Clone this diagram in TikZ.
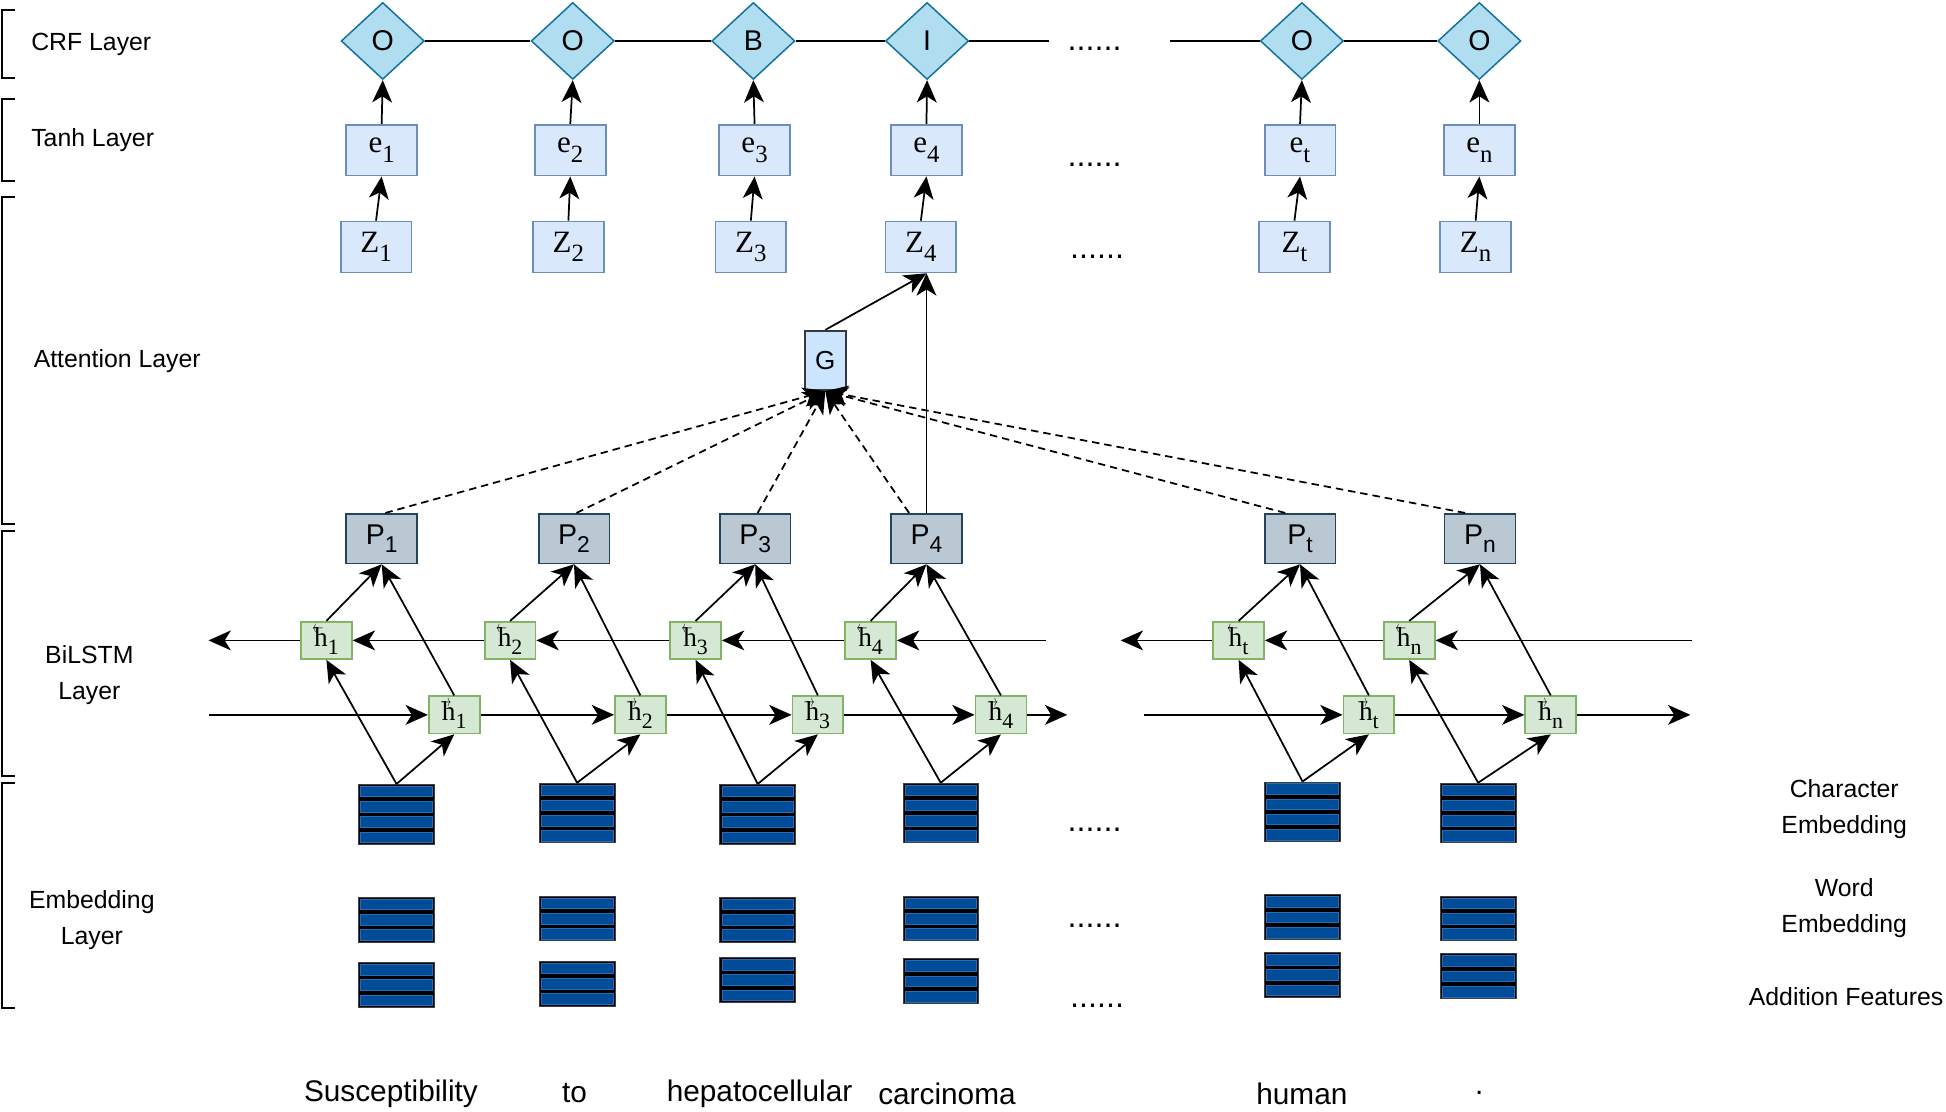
\documentclass[tikz,border=0pt]{standalone}
\usepackage{fontspec}
\usepackage{graphicx}
\setmainfont{Liberation Sans}
\newfontfamily\tnr{Liberation Serif}
\usetikzlibrary{shapes.geometric,arrows.meta,calc}
\definecolor{crffill}{HTML}{B1DDF0}
\definecolor{crfdraw}{HTML}{10739E}
\definecolor{efill}{HTML}{DAE8FC}
\definecolor{edraw}{HTML}{6C8EBF}
\definecolor{gfill}{HTML}{CCE5FF}
\definecolor{gdraw}{HTML}{36393D}
\definecolor{pfill}{HTML}{BAC8D3}
\definecolor{pdraw}{HTML}{23445D}
\definecolor{hfill}{HTML}{D5E8D4}
\definecolor{hdraw}{HTML}{82B366}
\definecolor{embblue}{HTML}{004C99}
\definecolor{embedge}{HTML}{2A6BB8}
\newcommand\fsz[2]{\fontsize{#1pt}{#2pt}\selectfont}
\newcommand\sbs[1]{\raisebox{-0.3em}{\scalebox{0.8}{#1}}}
\newcommand\hvec[1]{\makebox[0pt][l]{\raisebox{0.5em}{\kern-0.06em\resizebox{0.4em}{0.22em}{$#1$}}}h}
\begin{document}
\begin{tikzpicture}[x=1pt,y=-1pt,
  lbl/.style={font=\fsz{20}{29}, align=center, inner sep=0},
  word/.style={font=\fsz{24}{28}, inner sep=0},
  dotsn/.style={font=\fsz{26}{28}, anchor=base, inner sep=0},
  dia/.style={diamond, fill=crffill, draw=crfdraw, line width=1.2pt, minimum width=67, minimum height=62, inner sep=0, font=\fsz{23}{26}},
  ebox/.style={rectangle, fill=efill, draw=edraw, line width=1.4pt, minimum width=57, minimum height=41, inner sep=0, font=\tnr\fsz{25}{28}},
  gbox/.style={rectangle, fill=gfill, draw=gdraw, line width=1.4pt, minimum width=33, minimum height=48, inner sep=0, font=\fsz{21}{24}},
  pbox/.style={rectangle, fill=pfill, draw=pdraw, line width=1.4pt, minimum width=57, minimum height=40, inner sep=0, font=\fsz{23}{26}},
  hbox/.style={rectangle, fill=hfill, draw=hdraw, line width=1.4pt, minimum width=41, minimum height=30, inner sep=0, font=\tnr\fsz{22}{24}},
  arr/.style={-{Stealth[length=18pt,width=16pt,inset=5pt]}, line width=1.4pt},
  ln/.style={line width=1.4pt},
  dsh/.style={arr, dash pattern=on 6pt off 4pt},
  brk/.style={line width=1.6pt},
  embc/.style={rectangle, fill=black, draw=black!75, line width=0.6pt, minimum width=61, minimum height=48, inner sep=0,
    path picture={\foreach \k in {0,...,3}{
      \filldraw[fill=embblue, draw=embedge, line width=0.3pt] ($(path picture bounding box.north west)+(1.6,{1.4+\k*12.25})$) rectangle ++(57.8,8.5);}}},
  embw/.style={rectangle, fill=black, draw=black!75, line width=0.6pt, minimum width=61, minimum height=36, inner sep=0,
    path picture={\foreach \k in {0,...,2}{
      \filldraw[fill=embblue, draw=embedge, line width=0.3pt] ($(path picture bounding box.north west)+(1.6,{1.4+\k*12.34})$) rectangle ++(57.8,8.57);}}}
]
\useasboundingbox (0,0) rectangle (1568,896);

% brackets and layer labels
\draw[brk] (12,8) -- (2,8) -- (2,63) -- (12,63);
\draw[brk] (12,80) -- (2,80) -- (2,146) -- (12,146);
\draw[brk] (12,159) -- (2,159) -- (2,422) -- (12,422);
\draw[brk] (12,428) -- (2,428) -- (2,625) -- (12,625);
\draw[brk] (12,631) -- (2,631) -- (2,812) -- (12,812);
\node[lbl, anchor=west] (lcrf) at (25,36) {CRF Layer};
\node[lbl, anchor=west] (ltanh) at (25,113) {Tanh Layer};
\node[lbl, anchor=west] (latt) at (27,291) {Attention Layer};
\node[lbl] (lbil) at (72,544) {BiLSTM\\Layer};
\node[lbl] (lemb) at (74,741.5) {Embedding\\Layer};
\node[lbl] (rchar) at (1486,652) {Character\\Embedding};
\node[lbl] (rword) at (1486,732) {Word\\Embedding};
\node[lbl] (rfeat) at (1487.5,803) {Addition Features};

% CRF layer
\node[dia] (d1) at (308.4,33) {O};
\node[dia] (d2) at (461.5,33) {O};
\node[dia] (d3) at (607,33) {B};
\node[dia] (d4) at (747,33) {I};
\node[dia] (d5) at (1049,33) {O};
\node[dia] (d6) at (1192,33) {O};
\coordinate (crfA) at (845,33);
\coordinate (crfB) at (943,33);
\draw[ln] (d1.east) -- (d2.west);
\draw[ln] (d2.east) -- (d3.west);
\draw[ln] (d3.east) -- (d4.west);
\draw[ln] (d4.east) -- (crfA);
\draw[ln] (crfB) -- (d5.west);
\draw[ln] (d5.east) -- (d6.west);

% Tanh layer
\node[ebox] (e1) at (307.5,121) {e\sbs{1}};
\node[ebox] (e2) at (459.5,121) {e\sbs{2}};
\node[ebox] (e3) at (608,121) {e\sbs{3}};
\node[ebox] (e4) at (746.5,121) {e\sbs{4}};
\node[ebox] (e5) at (1047.5,121) {e\sbs{t}};
\node[ebox] (e6) at (1192,121) {e\sbs{n}};

% Attention outputs
\node[ebox] (z1) at (303,199) {Z\sbs{1}};
\node[ebox] (z2) at (458,199) {Z\sbs{2}};
\node[ebox] (z3) at (605,199) {Z\sbs{3}};
\node[ebox] (z4) at (742,199) {Z\sbs{4}};
\node[ebox] (z5) at (1043,199) {Z\sbs{t}};
\node[ebox] (z6) at (1189,199) {Z\sbs{n}};

\foreach \i in {1,...,6}{
  \draw[arr] (z\i.north) -- (e\i.south);
  \draw[arr] (e\i.north) -- (d\i.south);
}

% dots
\node[dotsn] (dots1) at (882,41) {......};
\node[dotsn] (dots2) at (882,134) {......};
\node[dotsn] (dots3) at (884,208) {......};
\node[dotsn] (dots4) at (882,670) {......};
\node[dotsn] (dots5) at (882,747) {......};
\node[dotsn] (dots6) at (884,812) {......};

% G and P
\node[gbox] (g) at (665,290.5) {G};
\node[pbox] (p1) at (307.5,434) {P\sbs{1}};
\node[pbox] (p2) at (462.5,434) {P\sbs{2}};
\node[pbox] (p3) at (608.5,434) {P\sbs{3}};
\node[pbox] (p4) at (746.5,434) {P\sbs{4}};
\node[pbox] (p5) at (1047.5,434) {P\sbs{t}};
\node[pbox] (p6) at (1192.5,434) {P\sbs{n}};

\draw[arr] (p4.north) -- (p4.north |- z4.south);
\draw[arr] (g.north) -- (p4.north |- z4.south);
\draw[dsh] ($(p1.north)+(3,0)$) -- (g.south);
\draw[dsh] ($(p2.north)+(2,0)$) -- (g.south);
\draw[dsh] ($(p3.north)+(2,0)$) -- (g.south);
\draw[dsh] ($(p4.north)+(-14,0)$) -- (g.south);
\draw[dsh] ($(p5.north)+(-12,0)$) -- (g.south);
\draw[dsh] ($(p6.north)+(-12,0)$) -- (g.south);

% BiLSTM
\node[hbox] (hb1) at (263,516) {\hvec{\leftarrow}\sbs{1}};
\node[hbox] (hb2) at (411,516) {\hvec{\leftarrow}\sbs{2}};
\node[hbox] (hb3) at (560.5,516) {\hvec{\leftarrow}\sbs{3}};
\node[hbox] (hb4) at (701.5,516) {\hvec{\leftarrow}\sbs{4}};
\node[hbox] (hb5) at (998,516) {\hvec{\leftarrow}\sbs{t}};
\node[hbox] (hb6) at (1135.5,516) {\hvec{\leftarrow}\sbs{n}};
\node[hbox] (hf1) at (366,576) {\hvec{\rightarrow}\sbs{1}};
\node[hbox] (hf2) at (516,576) {\hvec{\rightarrow}\sbs{2}};
\node[hbox] (hf3) at (659,576) {\hvec{\rightarrow}\sbs{3}};
\node[hbox] (hf4) at (806.5,576) {\hvec{\rightarrow}\sbs{4}};
\node[hbox] (hf5) at (1103,576) {\hvec{\rightarrow}\sbs{t}};
\node[hbox] (hf6) at (1249.5,576) {\hvec{\rightarrow}\sbs{n}};

\coordinate (bL1) at (168,516);
\coordinate (bR1) at (843,516);
\coordinate (bL2) at (903,516);
\coordinate (bR2) at (1363,516);
\coordinate (fL1) at (168,576);
\coordinate (fR1) at (860,576);
\coordinate (fL2) at (922,576);
\coordinate (fR2) at (1362,576);

\draw[arr] (bR1) -- (hb4.east);
\draw[arr] (hb4.west) -- (hb3.east);
\draw[arr] (hb3.west) -- (hb2.east);
\draw[arr] (hb2.west) -- (hb1.east);
\draw[arr] (hb1.west) -- (bL1);
\draw[arr] (bR2) -- (hb6.east);
\draw[arr] (hb6.west) -- (hb5.east);
\draw[arr] (hb5.west) -- (bL2);

\draw[arr] (fL1) -- (hf1.west);
\draw[arr] (hf1.east) -- (hf2.west);
\draw[arr] (hf2.east) -- (hf3.west);
\draw[arr] (hf3.east) -- (hf4.west);
\draw[arr] (hf4.east) -- (fR1);
\draw[arr] (fL2) -- (hf5.west);
\draw[arr] (hf5.east) -- (hf6.west);
\draw[arr] (hf6.east) -- (fR2);

% Embeddings
\node[embc] (c1) at (319.5,656) {};
\node[embc] (c2) at (465,655) {};
\node[embc] (c3) at (610.5,656) {};
\node[embc] (c4) at (758,655) {};
\node[embc] (c5) at (1049.5,654) {};
\node[embc] (c6) at (1191,655) {};
\node[embw] (w1) at (319.5,741) {};
\node[embw] (w2) at (465,740) {};
\node[embw] (w3) at (610.5,741) {};
\node[embw] (w4) at (758,740) {};
\node[embw] (w5) at (1049.5,739) {};
\node[embw] (w6) at (1191,740) {};
\node[embw] (f1) at (319.5,793.5) {};
\node[embw] (f2) at (465,792.5) {};
\node[embw] (f3) at (610.5,789.5) {};
\node[embw] (f4) at (758,790.5) {};
\node[embw] (f5) at (1049.5,785.5) {};
\node[embw] (f6) at (1191,786.5) {};

\foreach \i in {1,...,6}{
  \draw[arr] (c\i.north) -- (hb\i.south);
  \draw[arr] (c\i.north) -- (hf\i.south);
  \draw[arr] (hb\i.north) -- (p\i.south);
  \draw[arr] (hf\i.north) -- (p\i.south);
}

% words
\node[word] (t1) at (315,881) {Susceptibility};
\node[word] (t2) at (463,881) {to};
\node[word] (t3) at (612,881) {hepatocellular};
\node[word] (t4) at (763,881) {carcinoma};
\node[word] (t5) at (1049,881) {human};
\node[word] (t6) at (1192,881) {.};
\end{tikzpicture}
\end{document}
